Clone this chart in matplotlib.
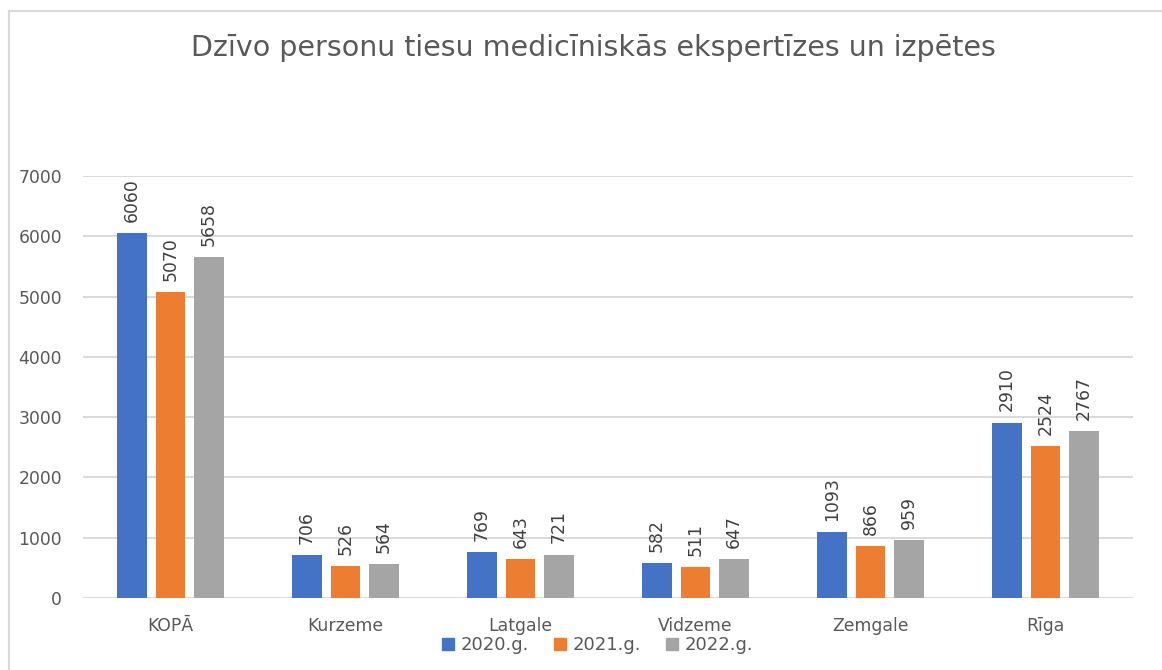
import numpy as np
import matplotlib.pyplot as plt
from matplotlib.lines import Line2D

# data
categories = ['KOPĀ', 'Kurzeme', 'Latgale', 'Vidzeme', 'Zemgale', 'Rīga']
years = ['2020.g.', '2021.g.', '2022.g.']
v2020 = [6060, 706, 769, 582, 1093, 2910]
v2021 = [5070, 526, 643, 511, 866, 2524]
v2022 = [5658, 564, 721, 647, 959, 2767]
colors = ['#4472C4', '#ED7D31', '#A5A5A5']

plt.rcParams['font.family'] = ['DejaVu Sans']

fig = plt.figure(figsize=(11.62, 6.70), dpi=100)
ax = fig.add_axes([83 / 1162, 1 - 598 / 670, 1050 / 1162, 422 / 670])

x = np.arange(len(categories))
width = 0.171
pitch = 0.22
for i, (vals, c) in enumerate(zip([v2020, v2021, v2022], colors)):
    pos = x + (i - 1) * pitch
    ax.bar(pos, vals, width=width, color=c, zorder=3)
    for p, v in zip(pos, vals):
        ax.annotate(str(v), (p, v), xytext=(0, 8), textcoords='offset points',
                    rotation=90, ha='center', va='bottom',
                    fontsize=12.4, color='#404040')

ax.set_xlim(-0.5, 5.5)
ax.set_ylim(0, 7000)
ax.set_yticks(range(0, 7001, 1000))
ax.set_xticks(x)
ax.set_xticklabels(categories)
ax.grid(axis='y', color='#D9D9D9', linewidth=1.4, zorder=0)
for s in ax.spines.values():
    s.set_visible(False)
ax.tick_params(axis='y', length=0, pad=15, labelsize=12.4, labelcolor='#595959')
ax.tick_params(axis='x', length=0, pad=14, labelsize=12.4, labelcolor='#595959')

fig.text(593 / 1162, 1 - 48 / 670, 'Dzīvo personu tiesu medicīniskās ekspertīzes un izpētes',
         ha='center', va='center', fontsize=20.5, color='#595959')

handles = [Line2D([], [], marker='s', linestyle='', markersize=9,
                  markerfacecolor=c, markeredgecolor=c) for c in colors]
fig.legend(handles, years, loc='center', bbox_to_anchor=(596 / 1162, 1 - 645 / 670),
           ncol=3, frameon=False, fontsize=13, labelcolor='#595959',
           handletextpad=0.2, columnspacing=1.2, handlelength=1.0)

# frame lines of the chart area
fig.add_artist(Line2D([9 / 1162, 9 / 1162], [0, 1 - 11 / 670], color='#D9D9D9', linewidth=1.5))
fig.add_artist(Line2D([9 / 1162, 1], [1 - 11 / 670, 1 - 11 / 670], color='#D9D9D9', linewidth=1.5))

fig.savefig('out.png', dpi=100)
